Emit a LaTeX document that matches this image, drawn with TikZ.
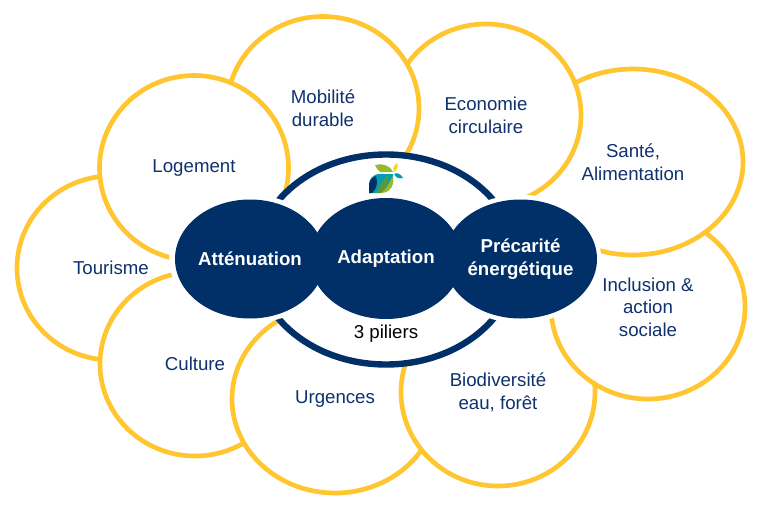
\documentclass[tikz,border=0pt]{standalone}
\usepackage{fontspec}
\setmainfont{Liberation Sans}
\usetikzlibrary{shapes.geometric, positioning}
\definecolor{petalyellow}{RGB}{255,198,47}
\definecolor{pillarnavy}{RGB}{0,48,103}
\definecolor{textnavy}{RGB}{15,50,110}
\definecolor{leafgreen}{RGB}{150,185,45}
\definecolor{leafdark}{RGB}{95,150,60}
\definecolor{leafteal}{RGB}{0,160,175}
\definecolor{leafyellow}{RGB}{250,215,30}

\begin{document}
\begin{tikzpicture}[
    x=0.75pt, y=-0.75pt,
    every node/.style={font=\fontsize{14}{17}\selectfont},
    petal/.style 2 args={ellipse, draw=petalyellow, fill=white, line width=3.5pt, minimum width=#1*1.5pt, minimum height=#2*1.5pt, inner sep=0pt, align=center, text=textnavy},
    halo/.style 2 args={ellipse, draw=white, fill=white, line width=7pt, minimum width=#1*1.5pt, minimum height=#2*1.5pt, inner sep=0pt},
    pillar/.style 2 args={ellipse, fill=pillarnavy, minimum width=#1*1.5pt, minimum height=#2*1.5pt, inner sep=0pt, align=center, text=white, font=\fontsize{14}{17}\selectfont\bfseries}
]
\useasboundingbox (0,0) rectangle (760,510);
\fill[white] (0,0) rectangle (760,510);

% outer ring of themes
\node[petal={94}{92}] (tourisme) at (111,268) {Tourisme};
\node[petal={95}{92}] (culture) at (195,364) {Culture};
\node[petal={103}{94}] (urgences) at (335,399) {Urgences};
\node[petal={97}{94}] (biodiversite) at (498,392) {Biodiversité\\eau, forêt};
\node[petal={97}{92}] (inclusion) at (648,307) {Inclusion \&\\action\\sociale};
\node[petal={110}{93}] (sante) at (633,162) {Santé,\\Alimentation};
\node[petal={95}{91}] (economie) at (486,115) {Economie\\circulaire};
\node[petal={96}{92}] (mobilite) at (323,108.5) {Mobilité\\durable};
\node[petal={94.5}{92.5}] (logement) at (194,168) {Logement};

% 3 pillars
\node[ellipse, draw=pillarnavy, fill=white, line width=4.8pt, minimum width=195pt, minimum height=157.5pt, inner sep=0pt] (ring) at (386,259.5) {};
\foreach \cx/\haloname in {250/haloa, 386/halob, 520.5/haloc}
    \node[halo={76}{59.5}] (\haloname) at (\cx,259) {};
\node[pillar={75}{59.5}] (attenuation) at (250,259) {Atténuation};
\node[pillar={76}{60.5}] (adaptation) at (386,258.5) {Adaptation};
\node[pillar={76.5}{59.5}] (precarite) at (520.5,259) {Précarité\\énergétique};
\node[below=1pt of adaptation, text=black] (piliers) {3 piliers};

% logo
\fill[leafgreen] (375,165) .. controls (382,163) and (390,165) .. (393,172) -- (380,172) .. controls (378,170) and (376,168) .. (375,165) -- cycle;
\fill[leafyellow] (397,163) .. controls (399,166) and (397,170) .. (394,172) .. controls (392,169) and (394,165) .. (397,163) -- cycle;
\fill[leafteal] (394,174) .. controls (397,172) and (401,174) .. (403,178) .. controls (399,179) and (396,178) .. (394,174) -- cycle;
\fill[leafteal] (378,174) -- (393,174) -- (393,182) .. controls (392,190) and (385,193) .. (377,193) -- (369,193) -- (369,184) .. controls (369,179) and (373,175) .. (378,174) -- cycle;
\fill[pillarnavy] (369,193) -- (369,184) .. controls (370,180) and (373,177) .. (376,176) .. controls (378,182) and (377,189) .. (372,193) -- cycle;
\fill[leafdark] (376,193) .. controls (379,186) and (383,180) .. (388,175) .. controls (389,182) and (387,189) .. (381,193) -- cycle;
\fill[leafgreen] (381,193) .. controls (387,189) and (389,182) .. (393,176) -- (393,182) .. controls (392,190) and (387,193) .. (381,193) -- cycle;
\end{tikzpicture}
\end{document}
